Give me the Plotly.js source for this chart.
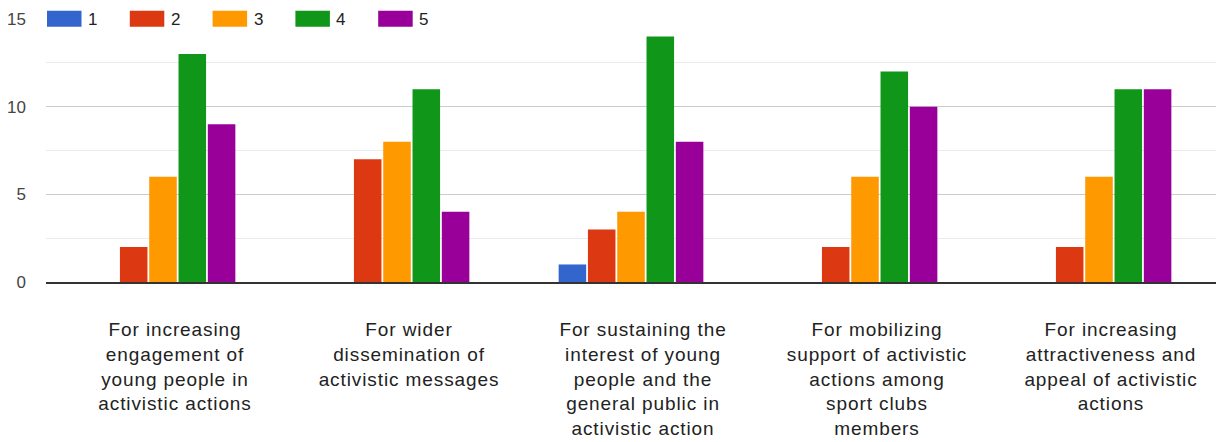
<!DOCTYPE html>
<html>
<head>
<meta charset="utf-8">
<script src="https://cdn.plot.ly/plotly-3.0.1.min.js"></script>
<style>
  html, body { margin: 0; padding: 0; background: #fff; }
  #chart { width: 1216px; height: 442px; }
  /* slightly wider category captions */
  #chart g.xtick text { letter-spacing: 0.9px; }
</style>
</head>
<body>
<div id="chart"></div>
<script>
// Statements rated on a 1–5 scale
const categories = [
  "For increasing<br>engagement of<br>young people in<br>activistic actions",
  "For wider<br>dissemination of<br>activistic messages",
  "For sustaining the<br>interest of young<br>people and the<br>general public in<br>activistic action",
  "For mobilizing<br>support of activistic<br>actions among<br>sport clubs<br>members",
  "For increasing<br>attractiveness and<br>appeal of activistic<br>actions"
];

const levels = ["1", "2", "3", "4", "5"];

// Number of responses per rating level, one value per statement
const level1 = [0, 0, 1, 0, 0];
const level2 = [2, 7, 3, 2, 2];
const level3 = [6, 8, 4, 6, 6];
const level4 = [13, 11, 14, 12, 11];
const level5 = [9, 4, 8, 10, 11];

const yTicks = [0, 5, 10, 15];

const seriesValues = [level1, level2, level3, level4, level5];
const colors = ["#3366CC", "#DC3912", "#FF9900", "#109618", "#990099"];

const traces = levels.map((name, i) => ({
  type: "bar",
  name: name,
  x: categories,
  y: seriesValues[i],
  marker: { color: colors[i], line: { width: 0 } },
  hoverinfo: "x+y+name",
  showlegend: false
}));

// Plot area geometry in pixels (used to place the legend boxes)
const W = 1216, H = 442;
const margin = { l: 46, r: 0, t: 19, b: 160 };
const plotW = W - margin.l - margin.r;
const plotH = H - margin.t - margin.b;
const px2x = p => (p - margin.l) / plotW;
const px2y = p => 1 - (p - margin.t) / plotH;

// Legend drawn as wide swatches along the top gridline
const legendShapes = [];
const legendLabels = [];
levels.forEach((name, i) => {
  const left = 47 + i * 82.8;
  legendShapes.push({
    type: "rect", xref: "paper", yref: "paper",
    x0: px2x(left), x1: px2x(left + 34.5),
    y0: px2y(26.7), y1: px2y(10.7),
    fillcolor: colors[i], line: { width: 0 }, layer: "above"
  });
  legendLabels.push({
    xref: "paper", yref: "paper",
    x: px2x(left + 39), y: px2y(19.5),
    xanchor: "left", yanchor: "middle",
    text: name, showarrow: false,
    font: { family: "Liberation Sans, Arial, sans-serif", size: 17, color: "#222" }
  });
});

const layout = {
  width: W, height: H,
  margin: margin,
  paper_bgcolor: "#fff",
  plot_bgcolor: "#fff",
  barmode: "group",
  bargap: 0.374,
  bargroupgap: 0.06,
  showlegend: false,
  font: { family: "Liberation Sans, Arial, sans-serif", color: "#222" },
  xaxis: {
    type: "category",
    showgrid: false,
    showline: true,
    linecolor: "#333",
    linewidth: 1.5,
    ticks: "",
    tickangle: 0,
    ticklabelshift: 12,
    ticklabelstandoff: 30,
    tickfont: { family: "Liberation Sans, Arial, sans-serif", size: 19, color: "#222" },
    fixedrange: true
  },
  yaxis: {
    range: [0, 15],
    tickvals: yTicks,
    ticktext: yTicks.map(String),
    showgrid: true,
    gridcolor: "#cccccc",
    gridwidth: 1,
    zeroline: false,
    showline: false,
    ticks: "",
    ticklabelstandoff: 19,
    tickfont: { family: "Liberation Sans, Arial, sans-serif", size: 17, color: "#444" },
    minor: { dtick: 2.5, tick0: 0, showgrid: true, gridcolor: "#ebebeb", gridwidth: 1 },
    fixedrange: true
  },
  shapes: legendShapes,
  annotations: legendLabels
};

Plotly.newPlot("chart", traces, layout, { displayModeBar: false, staticPlot: true });
</script>
</body>
</html>
